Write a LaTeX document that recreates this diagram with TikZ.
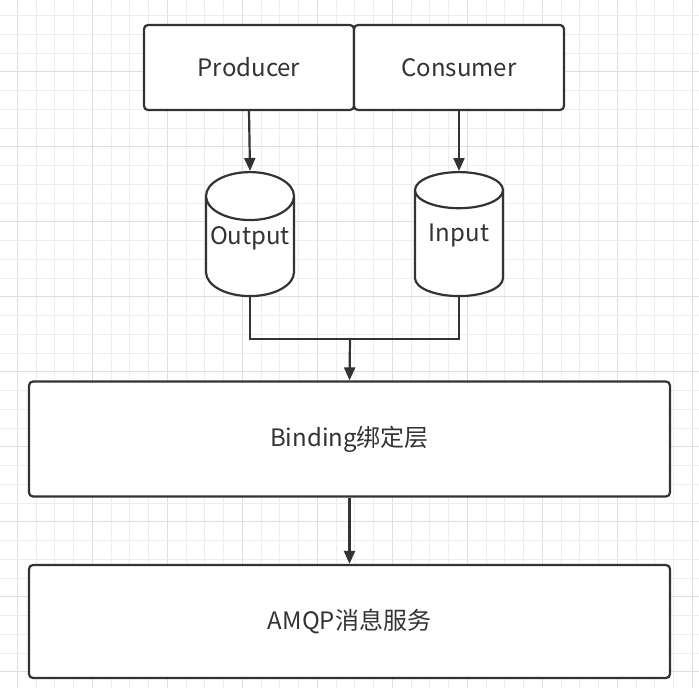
\documentclass[tikz,border=0pt]{standalone}
\usepackage{fontspec}
\setmainfont{Noto Sans CJK SC}
\usetikzlibrary{shapes.geometric,arrows.meta}
\definecolor{ink}{HTML}{333333}
\definecolor{gridminor}{HTML}{EDEDED}
\definecolor{gridmajor}{HTML}{DEDEDE}
\begin{document}
\begin{tikzpicture}[x=1pt,y=-1pt,
  lbl/.style={text=ink,font=\fontsize{24}{29}\selectfont},
  box/.style={lbl,draw=ink,line width=2.2pt,rounded corners=4pt,fill=white,inner sep=0pt},
  db/.style={lbl,cylinder,shape border rotate=90,aspect=0.6,draw=ink,line width=2.2pt,fill=white,
    minimum width=88pt,minimum height=124pt,inner sep=0pt,text height=0pt,text depth=5pt,anchor=north},
  link/.style={draw=ink,line width=2.2pt},
  arrow/.style={link,-{Triangle[length=13pt,width=11pt]}}]
\useasboundingbox (0,0) rectangle (699,688);
\fill[white] (0,0) rectangle (699,688);
\foreach \i in {0,...,38} {
  \pgfmathtruncatemacro\m{mod(\i,4)}
  \ifnum\m=1
    \draw[gridmajor,line width=1pt] ({-1.45+\i*18.75},0) -- ++(0,688);
  \else
    \draw[gridminor,line width=0.8pt] ({-1.45+\i*18.75},0) -- ++(0,688);
  \fi
}
\foreach \i in {0,...,37} {
  \pgfmathtruncatemacro\m{mod(\i,4)}
  \ifnum\m=0
    \draw[gridmajor,line width=1pt] (0,{-3.3+\i*18.75}) -- ++(699,0);
  \else
    \draw[gridminor,line width=0.8pt] (0,{-3.3+\i*18.75}) -- ++(699,0);
  \fi
}
\node[box,minimum width=210pt,minimum height=85pt] (prod) at (249,67.5) {Producer};
\node[box,minimum width=210pt,minimum height=85pt] (cons) at (459,67.5) {Consumer};
\node[db] (out) at (250,171) {Output};
\node[db] (in) at (459,171) {Input};
\node[box,minimum width=641pt,minimum height=115pt] (bind) at (349.5,439) {Binding绑定层};
\node[box,minimum width=641pt,minimum height=113pt] (amqp) at (349.5,621.5) {AMQP消息服务};
\coordinate (m) at (350,339);
\draw[arrow] (prod.south) -- (out.north);
\draw[arrow] (cons.south) -- (in.north);
\draw[link] (out.south) |- (m) -| (in.south);
\draw[arrow] (m) -- (bind.north);
\draw[arrow] (bind.south) -- (amqp.north);
\end{tikzpicture}
\end{document}
